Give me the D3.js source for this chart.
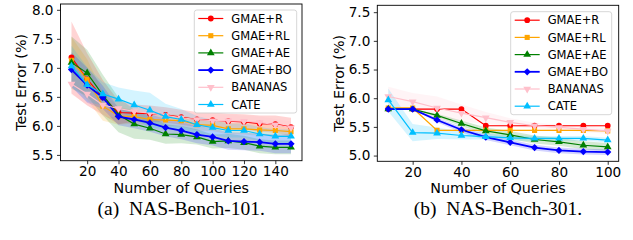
<!DOCTYPE html>
<html>
<head>
<meta charset="utf-8">
<script src="https://cdn.jsdelivr.net/npm/d3@7"></script>
<style>
  body { margin: 0; background: #fff; }
  svg { display: block; }
</style>
</head>
<body>
<svg width="633" height="240"></svg>
<script>
// ---- data: NAS-Bench-101 ----
var queries101 = [10, 20, 30, 40, 50, 60, 70, 80, 90, 100, 110, 120, 130, 140, 150];
var gmaeR101 = [7.18, 6.80, 6.49, 6.23, 6.22, 6.21, 6.19, 6.15, 6.11, 6.10, 6.08, 6.07, 6.04, 6.03, 5.98];
var gmaeR101Std = [0.62, 0.45, 0.30, 0.20, 0.15, 0.14, 0.13, 0.13, 0.13, 0.13, 0.13, 0.13, 0.14, 0.15, 0.16];
var gmaeRL101 = [7.13, 6.80, 6.34, 6.17, 6.16, 6.11, 6.10, 6.09, 6.02, 6.01, 5.95, 5.95, 5.93, 5.92, 5.90];
var gmaeRL101Std = [0.40, 0.35, 0.25, 0.15, 0.12, 0.10, 0.10, 0.10, 0.10, 0.10, 0.10, 0.10, 0.10, 0.10, 0.10];
var gmaeAE101 = [7.09, 6.91, 6.53, 6.19, 6.03, 5.96, 5.86, 5.85, 5.81, 5.73, 5.74, 5.71, 5.65, 5.63, 5.63];
var gmaeAE101Std = [0.45, 0.40, 0.35, 0.30, 0.25, 0.20, 0.17, 0.15, 0.13, 0.12, 0.12, 0.12, 0.12, 0.12, 0.12];
var gmaeBO101 = [6.97, 6.70, 6.49, 6.16, 6.11, 6.05, 5.97, 5.92, 5.85, 5.81, 5.74, 5.73, 5.72, 5.69, 5.69];
var gmaeBO101Std = [0.30, 0.30, 0.20, 0.15, 0.15, 0.15, 0.15, 0.15, 0.15, 0.15, 0.15, 0.15, 0.15, 0.16, 0.16];
var bananas101 = [6.72, 6.55, 6.36, 6.30, 6.25, 6.22, 6.18, 6.14, 6.11, 6.09, 6.09, 6.08, 6.06, 6.02, 5.97];
var bananas101Std = [0.18, 0.18, 0.20, 0.15, 0.12, 0.12, 0.10, 0.10, 0.10, 0.10, 0.10, 0.10, 0.10, 0.10, 0.10];
var cate101 = [7.03, 6.71, 6.55, 6.46, 6.36, 6.27, 6.16, 6.11, 6.02, 5.97, 5.92, 5.92, 5.86, 5.82, 5.82];
var cate101Std = [0.35, 0.30, 0.20, 0.20, 0.25, 0.30, 0.22, 0.18, 0.15, 0.13, 0.12, 0.12, 0.12, 0.12, 0.12];

// ---- data: NAS-Bench-301 ----
var queries301 = [10, 20, 30, 40, 50, 60, 70, 80, 90, 100];
var gmaeR301 = [5.81, 5.81, 5.81, 5.81, 5.52, 5.52, 5.52, 5.52, 5.52, 5.52];
var gmaeR301Std = [0.01, 0.01, 0.01, 0.01, 0.01, 0.01, 0.01, 0.01, 0.01, 0.01];
var gmaeRL301 = [5.83, 5.83, 5.44, 5.44, 5.44, 5.44, 5.44, 5.44, 5.44, 5.43];
var gmaeRL301Std = [0.01, 0.01, 0.01, 0.01, 0.01, 0.01, 0.01, 0.01, 0.01, 0.01];
var gmaeAE301 = [5.81, 5.81, 5.70, 5.56, 5.43, 5.36, 5.28, 5.24, 5.18, 5.15];
var gmaeAE301Std = [0.00, 0.00, 0.03, 0.05, 0.06, 0.07, 0.07, 0.07, 0.07, 0.07];
var gmaeBO301 = [5.81, 5.81, 5.62, 5.45, 5.32, 5.23, 5.14, 5.09, 5.07, 5.06];
var gmaeBO301Std = [0.00, 0.00, 0.04, 0.05, 0.05, 0.05, 0.05, 0.05, 0.05, 0.05];
var bananas301 = [6.03, 5.94, 5.83, 5.74, 5.66, 5.58, 5.52, 5.49, 5.46, 5.43];
var bananas301Std = [0.17, 0.15, 0.20, 0.15, 0.10, 0.07, 0.05, 0.05, 0.05, 0.05];
var cate301 = [5.97, 5.40, 5.39, 5.35, 5.33, 5.31, 5.30, 5.30, 5.30, 5.27];
var cate301Std = [0.20, 0.15, 0.10, 0.07, 0.05, 0.05, 0.04, 0.04, 0.04, 0.04];

var seriesNames = ['GMAE+R', 'GMAE+RL', 'GMAE+AE', 'GMAE+BO', 'BANANAS', 'CATE'];
var yTicks101 = [5.5, 6.0, 6.5, 7.0, 7.5, 8.0];
var xTicks101 = [20, 40, 60, 80, 100, 120, 140];
var yTicks301 = [5.0, 5.5, 6.0, 6.5, 7.0, 7.5];
var xTicks301 = [20, 40, 60, 80, 100];

// styles (matplotlib named colours)
var seriesStyle = [
  { color: 'red', symbol: d3.symbolCircle, size: 26, rot: 0, lw: 1.2 },
  { color: 'orange', symbol: d3.symbolSquare, size: 26, rot: 0, lw: 1.2 },
  { color: 'green', symbol: d3.symbolTriangle, size: 26, rot: 0, lw: 1.2 },
  { color: 'blue', symbol: d3.symbolSquare, size: 26, rot: 45, lw: 1.8 },
  { color: 'pink', symbol: d3.symbolTriangle, size: 26, rot: 180, lw: 1.2 },
  { color: 'deepskyblue', symbol: d3.symbolTriangle, size: 26, rot: 0, lw: 1.2 }
];

var svg = d3.select('svg');
var tickFont = 13.6, labelFont = 14.3, legendFont = 11.5;

function drawPanel(p) {
  var x = d3.scaleLinear().domain(p.xDomain).range([p.left, p.right]);
  var y = d3.scaleLinear().domain(p.yDomain).range([p.bottom, p.top]);
  var g = svg.append('g');

  var clipId = 'clip' + p.id;
  g.append('clipPath').attr('id', clipId).append('rect')
    .attr('x', p.left).attr('y', p.top)
    .attr('width', p.right - p.left).attr('height', p.bottom - p.top);
  var plot = g.append('g').attr('clip-path', 'url(#' + clipId + ')');

  // shaded bands
  p.series.forEach(function(s, i) {
    var pts = p.xs.map((q, k) => ({ q: q, m: s.mean[k], sd: s.std[k] }));
    plot.append('path')
      .datum(pts)
      .attr('d', d3.area().x(d => x(d.q)).y0(d => y(d.m - d.sd)).y1(d => y(d.m + d.sd)))
      .attr('fill', seriesStyle[i].color)
      .attr('fill-opacity', 0.17);
  });
  // lines + markers
  p.series.forEach(function(s, i) {
    var st = seriesStyle[i];
    var pts = p.xs.map((q, k) => ({ q: q, m: s.mean[k] }));
    plot.append('path')
      .datum(pts)
      .attr('d', d3.line().x(d => x(d.q)).y(d => y(d.m)))
      .attr('fill', 'none')
      .attr('stroke', st.color)
      .attr('stroke-width', st.lw);
    plot.selectAll(null)
      .data(pts)
      .enter()
      .append('path')
      .attr('d', d3.symbol().type(st.symbol).size(st.size))
      .attr('transform', d => 'translate(' + [x(d.q), y(d.m)] + ') rotate(' + st.rot + ')')
      .attr('fill', st.color);
  });

  // axes
  var xAxisG = g.append('g')
    .attr('transform', 'translate(0,' + p.bottom + ')')
    .call(d3.axisBottom(x).tickValues(p.xTicks).tickSize(3.5).tickPadding(2.5).tickSizeOuter(0));
  var yAxisG = g.append('g')
    .attr('transform', 'translate(' + p.left + ',0)')
    .call(d3.axisLeft(y).tickValues(p.yTicks).tickFormat(d3.format('.1f')).tickSize(3.5).tickPadding(3.5).tickSizeOuter(0));
  [xAxisG, yAxisG].forEach(function(a) {
    a.select('.domain').remove();
    a.selectAll('text').attr('font-family', 'DejaVu Sans').attr('font-size', tickFont).attr('fill', '#000');
    a.selectAll('line').attr('stroke', '#000').attr('stroke-width', 0.8);
  });

  // frame
  g.append('rect')
    .attr('x', p.left).attr('y', p.top)
    .attr('width', p.right - p.left).attr('height', p.bottom - p.top)
    .attr('fill', 'none').attr('stroke', '#000').attr('stroke-width', 0.9);

  // axis labels
  g.append('text')
    .text('Number of Queries')
    .attr('x', (p.left + p.right) / 2).attr('y', 192.5)
    .attr('text-anchor', 'middle')
    .attr('font-family', 'DejaVu Sans').attr('font-size', labelFont);
  g.append('text')
    .text('Test Error (%)')
    .attr('transform', 'translate(' + [p.yLabelX, (p.top + p.bottom) / 2] + ') rotate(-90)')
    .attr('text-anchor', 'middle')
    .attr('dy', '0.35em')
    .attr('font-family', 'DejaVu Sans').attr('font-size', labelFont);

  // legend
  var lg = g.append('g').attr('transform', 'translate(' + [p.legX, p.legY] + ')');
  lg.append('rect')
    .attr('width', p.legW).attr('height', 103)
    .attr('rx', 2.5)
    .attr('fill', '#fff').attr('fill-opacity', 0.8)
    .attr('stroke', '#cccccc').attr('stroke-width', 0.8);
  seriesNames.forEach(function(name, i) {
    var st = seriesStyle[i];
    var ey = 8.5 + i * 17.2;
    lg.append('line')
      .attr('x1', 4).attr('x2', 29).attr('y1', ey).attr('y2', ey)
      .attr('stroke', st.color).attr('stroke-width', st.lw);
    lg.append('path')
      .attr('d', d3.symbol().type(st.symbol).size(st.size))
      .attr('transform', 'translate(' + [16.5, ey] + ') rotate(' + st.rot + ')')
      .attr('fill', st.color);
    lg.append('text')
      .text(name)
      .attr('x', 37).attr('y', ey)
      .attr('dy', '0.36em')
      .attr('font-family', 'DejaVu Sans').attr('font-size', legendFont);
  });

  // caption
  svg.append('text')
    .text(p.caption)
    .attr('x', (p.left + p.right) / 2).attr('y', 215)
    .attr('text-anchor', 'middle')
    .attr('font-family', 'Liberation Serif').attr('font-size', 19.5);
}

drawPanel({
  id: 'a',
  left: 60.5, right: 302, top: 4, bottom: 160.7,
  xDomain: [3, 157], yDomain: [5.40, 8.10],
  xs: queries101, xTicks: xTicks101, yTicks: yTicks101,
  yLabelX: 21,
  legX: 194.3, legY: 10, legW: 102.4,
  caption: '(a)\u00a0\u00a0NAS-Bench-101.',
  series: [
    { mean: gmaeR101, std: gmaeR101Std },
    { mean: gmaeRL101, std: gmaeRL101Std },
    { mean: gmaeAE101, std: gmaeAE101Std },
    { mean: gmaeBO101, std: gmaeBO101Std },
    { mean: bananas101, std: bananas101Std },
    { mean: cate101, std: cate101Std }
  ]
});

drawPanel({
  id: 'b',
  left: 377.3, right: 618.7, top: 5.3, bottom: 161.3,
  xDomain: [5.5, 104.5], yDomain: [4.90, 7.62],
  xs: queries301, xTicks: xTicks301, yTicks: yTicks301,
  yLabelX: 338.5,
  legX: 510.7, legY: 11.7, legW: 101,
  caption: '(b)\u00a0\u00a0NAS-Bench-301.',
  series: [
    { mean: gmaeR301, std: gmaeR301Std },
    { mean: gmaeRL301, std: gmaeRL301Std },
    { mean: gmaeAE301, std: gmaeAE301Std },
    { mean: gmaeBO301, std: gmaeBO301Std },
    { mean: bananas301, std: bananas301Std },
    { mean: cate301, std: cate301Std }
  ]
});
</script>
</body>
</html>
